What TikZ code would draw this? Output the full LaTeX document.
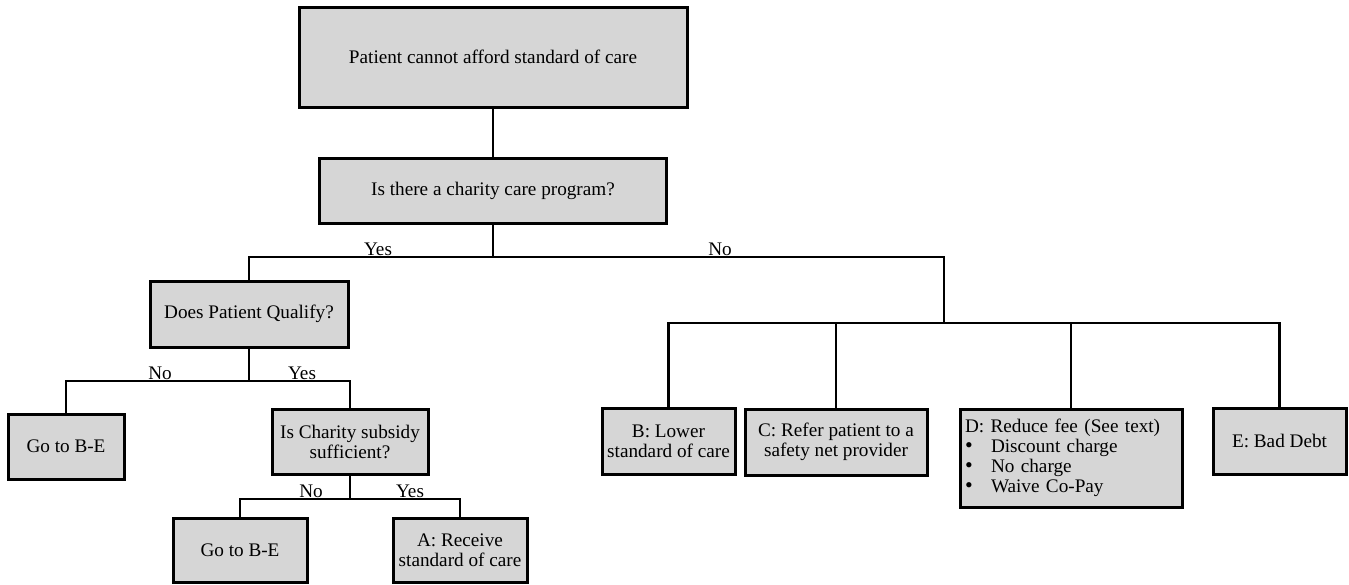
\documentclass[tikz,border=0pt]{standalone}
\usepackage{fontspec}
\setmainfont{Liberation Serif}
\usetikzlibrary{positioning}

\begin{document}
\begin{tikzpicture}[x=1pt,y=-1pt,
  every node/.style={font=\fontsize{19.2}{20}\selectfont},
  box/.style={draw=black,line width=3pt,fill=black!16,inner sep=0pt,align=center},
  link/.style={draw=black,line width=2.6pt},
  lbl/.style={anchor=south,inner sep=1pt}]
\useasboundingbox (0,0) rectangle (1349,584);
\node[box,minimum width=388,minimum height=100] (top) at (493,57) {Patient cannot afford standard of care};
\node[box,minimum width=347,minimum height=65] (prog) at (493,190.5) {Is there a charity care program?};
\node[box,minimum width=198,minimum height=66] (qualify) at (249,314) {Does Patient Qualify?};
\node[box,minimum width=116,minimum height=65] (goL) at (66,446.5) {Go to B-E};
\node[box,minimum width=156,minimum height=65] (subsidy) at (350,441.5) {Is Charity subsidy\\sufficient?};
\node[box,minimum width=134,minimum height=64] (goB) at (240,550) {Go to B-E};
\node[box,minimum width=134,minimum height=64] (recv) at (460,550) {A: Receive\\standard of care};
\node[box,minimum width=133,minimum height=66] (lower) at (668.5,441) {B: Lower\\standard of care};
\node[box,minimum width=182,minimum height=66] (refer) at (836,442) {C: Refer patient to a\\safety net provider};
\node[box,minimum width=222,minimum height=98,text width=212,align=left] (reduce) at (1071,458)
  {D: Reduce fee (See text)\\
   \makebox[26pt][l]{\fontsize{22}{20}\selectfont\textbullet}Discount charge\\
   \makebox[26pt][l]{\fontsize{22}{20}\selectfont\textbullet}No charge\\
   \makebox[26pt][l]{\fontsize{22}{20}\selectfont\textbullet}Waive Co-Pay};
\node[box,minimum width=133,minimum height=66] (bad) at (1279.5,441) {E: Bad Debt};

\coordinate (fork1) at (493,257);
\coordinate (fork2) at (944,323);
\coordinate (fork3) at (249,381);
\coordinate (fork4) at (350,499);

\draw[link] (top) -- (prog);
\draw[link] (prog.south) -- (fork1) -| (qualify.north);
\draw[link] (fork1) -| (fork2) -| (lower.north);
\draw[link] (fork2) -| (refer.north);
\draw[link] (fork2) -| (reduce.north);
\draw[link] (fork2) -| (bad.north);
\draw[link] (qualify.south) -- (fork3) -| (goL.north);
\draw[link] (fork3) -| (subsidy.north);
\draw[link] (subsidy.south) -- (fork4) -| (goB.north);
\draw[link] (fork4) -| (recv.north);

\node[lbl] (yes1) at (378,257) {Yes};
\node[lbl] (no1) at (720,257) {No};
\node[lbl] (no2) at (160,381) {No};
\node[lbl] (yes2) at (302,381) {Yes};
\node[lbl] (no3) at (311,499) {No};
\node[lbl] (yes3) at (410,499) {Yes};
\end{tikzpicture}
\end{document}
